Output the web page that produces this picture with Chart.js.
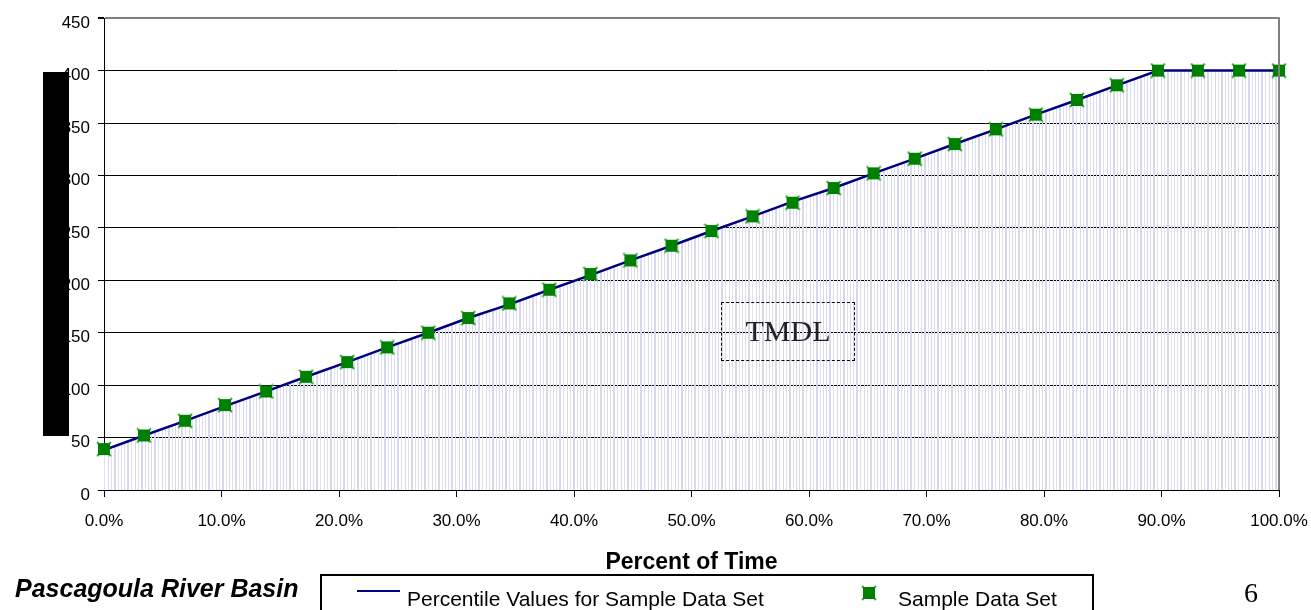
<!DOCTYPE html>
<html>
<head>
<meta charset="utf-8">
<script src="https://cdn.jsdelivr.net/npm/chart.js@4.4.1/dist/chart.umd.min.js"></script>
<style>
  body { margin: 0; background: #fff; }
  #wrap { position: relative; width: 1311px; height: 610px; overflow: hidden; font-family: "Liberation Sans", Arial, sans-serif; }
  #chart { position: absolute; left: 0; top: 0; }
  .abs { position: absolute; white-space: nowrap; line-height: 1; }
</style>
</head>
<body>
<div id="wrap">
  <canvas id="chart" width="1311" height="610"></canvas>
  <!-- box covering the y axis title -->
  <div class="abs" style="left:43px;top:72px;width:26px;height:364px;background:#000;"></div>
  <div class="abs" style="left:721px;top:302px;width:132px;height:57px;border:1px dashed #000;"></div>
  <div class="abs" style="left:722px;top:316px;width:132px;text-align:center;font-family:'Liberation Serif','Times New Roman',serif;font-size:30px;color:#222;">TMDL</div>
  <div class="abs" style="left:15px;top:576px;font-size:25px;font-weight:bold;font-style:italic;color:#000;">Pascagoula River Basin</div>
  <div class="abs" style="left:320px;top:574px;width:770px;height:60px;border:2px solid #000;"></div>
  <div class="abs" style="left:357px;top:590px;width:43px;height:2px;background:#000080;"></div>
  <div class="abs" style="left:407px;top:588px;font-size:21px;color:#000;">Percentile Values for Sample Data Set</div>
  <canvas id="legendMark" class="abs" width="16" height="16" style="left:861px;top:585px;"></canvas>
  <div class="abs" style="left:898px;top:588px;font-size:21px;color:#000;">Sample Data Set</div>
  <div class="abs" style="left:1244px;top:579px;font-family:'Liberation Serif','Times New Roman',serif;font-size:28px;color:#000;">6</div>
</div>
<script>
// percent of time (x) for each sample / percentile point
const samplePct = [0, 3.4, 6.9, 10.3, 13.8, 17.2, 20.7, 24.1, 27.6, 31.0, 34.5, 37.9, 41.4, 44.8, 48.3,
                   51.7, 55.2, 58.6, 62.1, 65.5, 69.0, 72.4, 75.9, 79.3, 82.8, 86.2, 89.7, 93.1, 96.6, 100];
const sampleVal = [39, 52, 66, 81, 94, 108, 122, 136, 150, 164, 178, 191, 206, 219, 233,
                   247, 261, 274, 288, 302, 316, 330, 344, 358, 372, 386, 400, 400, 400, 400];

const percentilePct = [0, 3.4, 6.9, 10.3, 13.8, 17.2, 20.7, 24.1, 27.6, 31.0, 34.5, 37.9, 41.4, 44.8, 48.3,
                       51.7, 55.2, 58.6, 62.1, 65.5, 69.0, 72.4, 75.9, 79.3, 82.8, 86.2, 89.7, 93.1, 96.6, 100];
const percentileVal = [38, 52, 66, 80, 94, 108, 122, 136, 150, 164, 177, 191, 205, 219, 233,
                       247, 261, 275, 288, 302, 316, 330, 344, 358, 372, 386, 400, 400, 400, 400];

const yTicks = [0, 50, 100, 150, 200, 250, 300, 350, 400, 450];
const xTicks = [0, 10, 20, 30, 40, 50, 60, 70, 80, 90, 100];

// marker: green square with light green x corners
function drawMarker(c) {
    const g = c.getContext("2d");
    g.strokeStyle = "#33b033";
    g.lineWidth = 2;
    g.beginPath();
    g.moveTo(1, 1); g.lineTo(15, 15);
    g.moveTo(15, 1); g.lineTo(1, 15);
    g.stroke();
    g.fillStyle = "#008000";
    g.fillRect(2, 2, 12, 12);
}
const marker = document.createElement("canvas");
marker.width = 16; marker.height = 16;
drawMarker(marker);
drawMarker(document.getElementById("legendMark"));

// vertical stripes under the curve
const tile = document.createElement("canvas");
tile.width = 27; tile.height = 4;
const tg = tile.getContext("2d");
[[0, 1, "#d8d8ee"], [3, 1, "#dedef1"], [6, 2, "#d6d6ec"], [10, 1, "#e0e0f2"],
 [13, 1, "#d8d8ee"], [16, 1, "#dcdcf0"], [19, 2, "#d8d8ee"], [23, 1, "#e0e0f2"]].forEach(([x, w, col]) => {
    tg.fillStyle = col;
    tg.fillRect(x, 0, w, 4);
});
const ctx = document.getElementById("chart").getContext("2d");
const stripes = ctx.createPattern(tile, "repeat");

const rightBorder = {
    id: "rightBorder",
    afterDatasetsDraw(chart) {
        const a = chart.chartArea;
        const c = chart.ctx;
        c.save();
        c.strokeStyle = "#808080";
        c.lineWidth = 2;
        c.beginPath();
        c.moveTo(a.right, a.top - 1);
        c.lineTo(a.right, a.bottom);
        c.stroke();
        c.restore();
    },
};

new Chart(ctx, {
    type: "scatter",
    data: {
        datasets: [
            {
                label: "Sample Data Set",
                data: samplePct.map((p, i) => ({ x: p, y: sampleVal[i] })),
                pointStyle: marker,
                pointRadius: 8,
                showLine: false,
                clip: false,
                order: 1,
            },
            {
                label: "Percentile Values for Sample Data Set",
                data: percentilePct.map((p, i) => ({ x: p, y: percentileVal[i] })),
                showLine: true,
                borderColor: "#000080",
                borderWidth: 2.5,
                pointRadius: 0,
                fill: "origin",
                backgroundColor: stripes,
                tension: 0,
                order: 2,
            },
        ],
    },
    options: {
        responsive: false,
        animation: false,
        events: [],
        layout: { padding: { left: 0, top: 16, right: 32, bottom: 0 } },
        plugins: {
            legend: { display: false },
            tooltip: { enabled: false },
        },
        scales: {
            x: {
                type: "linear",
                min: 0,
                max: 100,
                afterBuildTicks: (s) => { s.ticks = xTicks.map((v) => ({ value: v })); },
                afterFit: (s) => { s.height = 120; s.paddingLeft = 0; s.paddingRight = 0; },
                grid: { drawOnChartArea: false, drawTicks: true, tickLength: 7, color: "#000", lineWidth: 1 },
                border: { display: true, color: "#000", width: 1 },
                ticks: {
                    padding: 14,
                    maxRotation: 0,
                    autoSkip: false,
                    color: "#000",
                    font: { family: "'Liberation Sans', Arial, sans-serif", size: 17 },
                    callback: (v) => v.toFixed(1) + "%",
                },
                title: {
                    display: true,
                    text: "Percent of Time",
                    color: "#000",
                    padding: { top: 0, bottom: 34 },
                    font: { family: "'Liberation Sans', Arial, sans-serif", size: 23, weight: "bold" },
                },
            },
            y: {
                min: 0,
                max: 450,
                afterBuildTicks: (s) => { s.ticks = yTicks.map((v) => ({ value: v })); },
                afterFit: (s) => { s.width = 104; },
                grid: {
                    color: (c) => (c.tick && c.tick.value === 450 ? "#808080" : "#000"),
                    lineWidth: (c) => (c.tick && c.tick.value === 450 ? 2 : 1),
                    tickColor: "#000",
                    tickLength: 6,
                },
                border: { display: true, color: "#000", width: 1 },
                ticks: {
                    padding: 8,
                    labelOffset: 5,
                    color: "#000",
                    font: { family: "'Liberation Sans', Arial, sans-serif", size: 17 },
                },
            },
        },
    },
    plugins: [rightBorder],
});
</script>
</body>
</html>
